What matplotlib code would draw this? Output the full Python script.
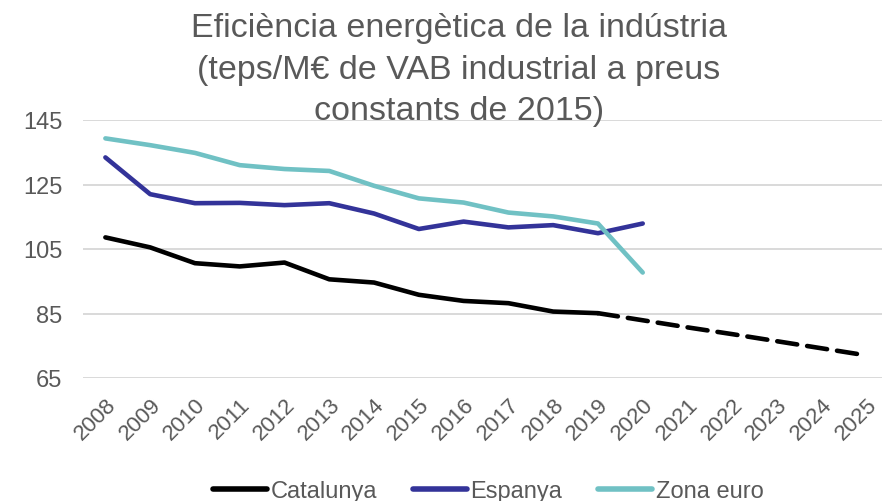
import matplotlib.pyplot as plt
from matplotlib.lines import Line2D

plt.rcParams['font.family'] = ['Liberation Sans', 'DejaVu Sans']

# Data
years = [str(y) for y in range(2008, 2026)]
catalunya = [108.6, 105.5, 100.6, 99.6, 100.8, 95.6, 94.6, 90.8, 88.9, 88.2, 85.6, 85.1]
catalunya_proj = [85.1, 82.9, 80.7, 78.6, 76.4, 74.2, 72.0]   # 2019..2025, dashed
espanya = [133.4, 122.0, 119.2, 119.3, 118.6, 119.2, 116.0, 111.2, 113.5, 111.7, 112.4, 109.9, 112.9]
zona_euro = [139.3, 137.2, 134.8, 131.0, 129.8, 129.2, 124.6, 120.7, 119.4, 116.3, 115.1, 112.9, 97.7]
yticks = [65, 85, 105, 125, 145]

grey = '#595959'
c_cat = '#000000'
c_esp = '#333399'
c_eur = '#70C1C4'

fig = plt.figure(figsize=(8.82, 5.02), dpi=100)
ax = fig.add_axes([83 / 882, 1 - 379 / 502, 806 / 882, 258 / 502])

x = list(range(len(years)))
lw = 3.3
ax.plot(x[:len(catalunya)], catalunya, color=c_cat, lw=lw, solid_capstyle='round',
        solid_joinstyle='round', label='Catalunya')
ax.plot(x[11:11 + len(catalunya_proj)], catalunya_proj, color=c_cat, lw=lw,
        dashes=(4.4, 2.2), dash_capstyle='round', label='_nolegend_')
ax.plot(x[:len(espanya)], espanya, color=c_esp, lw=lw, solid_capstyle='round',
        solid_joinstyle='round', label='Espanya')
ax.plot(x[:len(zona_euro)], zona_euro, color=c_eur, lw=lw, solid_capstyle='round',
        solid_joinstyle='round', label='Zona euro')

ax.set_xlim(-0.5, len(years) - 0.5)
ax.set_ylim(65, 145)
ax.set_yticks(yticks)
ax.set_yticklabels([str(v) for v in yticks], fontsize=17, color=grey)
ax.set_xticks(x)
ax.set_xticklabels(years, rotation=45, ha='right', rotation_mode='anchor',
                   fontsize=16, color=grey)
ax.tick_params(axis='y', length=0, pad=15)
ax.tick_params(axis='x', length=0, pad=11)
ax.grid(axis='y', color='#D9D9D9', lw=1.4)
ax.set_axisbelow(True)
for s in ax.spines.values():
    s.set_visible(False)

handles = [Line2D([], [], color=c, lw=4, solid_capstyle='round') for c in (c_cat, c_esp, c_eur)]
fig.legend(handles, ['Catalunya', 'Espanya', 'Zona euro'], loc='center',
           bbox_to_anchor=(488 / 882, 1 - 492 / 502), ncol=3, frameon=False,
           fontsize=17, labelcolor=grey, handlelength=2.3, handletextpad=0.15,
           columnspacing=1.5)

title_lines = ['Eficiència energètica de la indústria',
               '(teps/M€ de VAB industrial a preus',
               'constants de 2015)']
for line, yb in zip(title_lines, [37, 78.5, 120]):
    fig.text(459 / 882, 1 - yb / 502, line, ha='center', va='baseline',
             fontsize=24.5, color=grey)

fig.savefig('out.png', dpi=100)
